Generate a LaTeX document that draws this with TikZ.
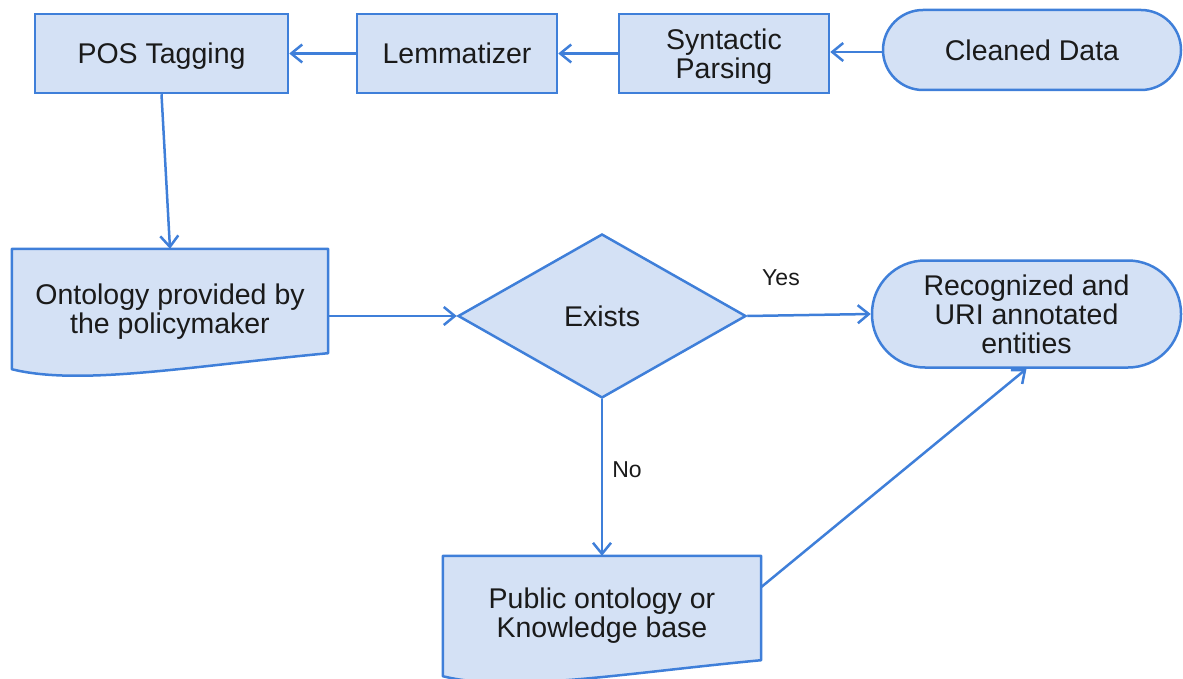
\documentclass[tikz,border=0pt]{standalone}
\usepackage{fontspec}
\setmainfont{Liberation Sans}
\usetikzlibrary{shapes.geometric,arrows.meta,calc,backgrounds}
\definecolor{boxfill}{HTML}{D4E1F5}
\definecolor{boxline}{HTML}{3F7FD9}
\definecolor{ink}{HTML}{1A1A1A}
\tikzset{
  every node/.style={font=\fontsize{28.5}{29}\selectfont, text=ink, align=center,
    inner sep=0pt, text depth=0pt},
  procbox/.style={rectangle, draw=boxline, fill=boxfill, line width=2.5pt, minimum height=79pt},
  terminal/.style={rectangle, rounded corners=#1, draw=boxline, fill=boxfill, line width=2.5pt},
  docbox/.style={rectangle, draw=none, minimum width=#1, minimum height=120pt},
  docline/.style={draw=boxline, fill=boxfill, line width=2.5pt, line join=round},
  decision/.style={diamond, draw=boxline, fill=boxfill, line width=2.5pt,
    minimum width=288pt, minimum height=164pt, aspect=1.756},
  flow/.style={draw=boxline, line width=2.5pt,
    -{Straight Barb[length=11pt,width=18pt,line width=2.5pt]}},
  edgelabel/.style={font=\fontsize{23}{24}\selectfont}
}
% draws the document outline (wavy bottom) behind a docbox node
\newcommand{\docoutline}[1]{%
  \begin{scope}[on background layer]
    \path[docline] (#1.north west) -- (#1.north east)
      -- ($(#1.south east)+(0,-16)$)
      .. controls ($(#1.south east)+(-138,-3)$) and ($(#1.south west)+(68,17)$)
      .. (#1.south west) -- cycle;
  \end{scope}}
\begin{document}
\begin{tikzpicture}[x=1pt,y=-1pt]
  \useasboundingbox (0,0) rectangle (1183,679);

  % top row
  \node[procbox, minimum width=253pt] (pos) at (161.5,53.5) {POS Tagging};
  \node[procbox, minimum width=200pt] (lem) at (457,53.5) {Lemmatizer};
  \node[procbox, minimum width=210pt] (syn) at (724,53.5) {Syntactic\\Parsing};
  \node[terminal=40pt, minimum width=298pt, minimum height=80pt] (clean) at (1032,50) {Cleaned Data};

  % middle row
  \node[docbox=316pt] (ont) at (170,309) {Ontology provided by\\the policymaker};
  \docoutline{ont}
  \node[decision] (ex) at (602,316) {Exists};
  \node[terminal=53pt, minimum width=309pt, minimum height=107pt] (rec) at (1026.5,314)
    {Recognized and\\URI annotated\\entities};

  % bottom
  \node[docbox=318pt, text depth=6pt] (pub) at (602,616) {Public ontology or\\Knowledge base};
  \docoutline{pub}

  % connectors
  \coordinate (cleanin) at ([yshift=-2pt]clean.west);
  \draw[flow] (cleanin) -- (syn.east |- cleanin);
  \draw[flow] (syn.west) -- (lem.east);
  \draw[flow] (lem.west) -- (pos.east);
  \draw[flow] (pos.south) -- (ont.north);
  \draw[flow] (ont.east |- ex.west) -- (ex.west);
  \draw[flow] (ex.east) -- (rec.west);
  \draw[flow] (ex.south) -- (pub.north);
  \draw[flow] ($(pub.north east)!0.26!(pub.south east)$) -- (rec.south);

  % branch labels
  \node[edgelabel] (yes) at (781,278) {Yes};
  \node[edgelabel] (no) at (627,470) {No};
\end{tikzpicture}
\end{document}
